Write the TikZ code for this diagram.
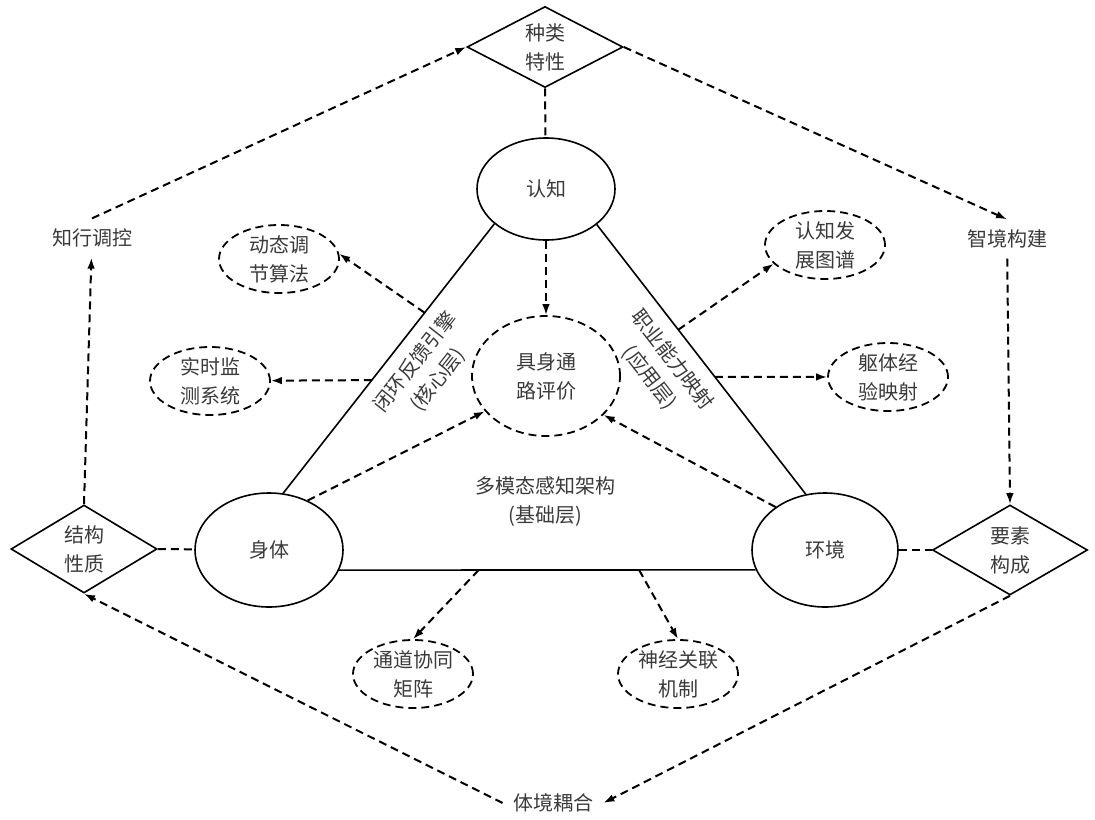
\documentclass[tikz,border=0pt]{standalone}
\usepackage{fontspec}
\usepackage{xcolor}
\usepackage{tikz}
\usetikzlibrary{arrows.meta,shapes.geometric}
\newfontfamily\cjk{Noto Sans CJK SC}
\definecolor{inkgray}{HTML}{3A3A3A}

\begin{document}
\begin{tikzpicture}[x=0.5pt,y=-0.5pt,
    every node/.style={font=\cjk\fontsize{10}{14.5}\selectfont,text=inkgray,align=center},
    hub/.style={ellipse,draw,line width=0.8pt,minimum width=74pt,minimum height=57pt},
    leaf/.style={ellipse,draw,line width=0.9pt,dash pattern=on 4pt off 2.5pt,inner sep=0pt,
                 minimum width=60pt,minimum height=34pt},
    facet/.style={diamond,draw,line width=0.8pt,aspect=2,inner sep=0pt,
                  minimum width=76pt,minimum height=44pt},
    tag/.style={inner sep=5pt},
    layer/.style={sloped,below,inner sep=6pt},
    link/.style={line width=1pt,dash pattern=on 4pt off 2.5pt},
    flow/.style={link,-{Latex[length=5.5pt,width=3.8pt]}}]
    \useasboundingbox (0,0) rectangle (1095,819);

    \node[hub,minimum width=69pt,minimum height=51pt] (cog) at (546,189) {认知};
    \node[hub] (body) at (269,550) {身体};
    \node[hub,minimum width=73pt] (env) at (825,550) {环境};
    \node[leaf,minimum width=74pt,minimum height=60pt] (eval) at (546,376) {具身通\\路评价};

    \node[facet,minimum width=78pt,minimum height=40.5pt] (kind) at (545,47) {种类\\特性};
    \node[facet,minimum width=73pt] (struct) at (84,549) {结构\\性质};
    \node[facet,minimum width=77.5pt,minimum height=45pt] (elem) at (1010,550) {要素\\构成};

    \node[tag] (zxtk) at (92,238) {知行调控};
    \node[tag] (zjgj) at (1007,239) {智境构建};
    \node[tag] (tjoh) at (553,803) {体境耦合};

    \node[leaf] (dyn) at (279,259) {动态调\\节算法};
    \node[leaf] (mon) at (210,381) {实时监\\测系统};
    \node[leaf] (graph) at (825,245) {认知发\\展图谱};
    \node[leaf] (bexp) at (888,377) {躯体经\\验映射};
    \node[leaf] (chan) at (413,674) {通道协同\\矩阵};
    \node[leaf] (neur) at (678,674) {神经关联\\机制};

    \node (base) at (545,502) {多模态感知架构\\(基础层)};

    \draw[line width=0.8pt] (body.76) -- node[pos=0.54,layer] {闭环反馈引擎\\(核心层)}
        coordinate[pos=0.42] (l2) coordinate[pos=0.67] (l1) (cog.214);
    \draw[line width=0.8pt] (cog.325) -- node[pos=0.45,layer] {职业能力映射\\(应用层)}
        coordinate[pos=0.39] (r1) coordinate[pos=0.565] (r2) (env.109);
    \draw[line width=0.8pt] (body.-16) -- coordinate[pos=0.335] (b1) coordinate[pos=0.72] (b2) (env.196);

    \draw[flow] (l1) -- (dyn.5);
    \draw[flow] (l2) -- (mon);
    \draw[flow] (r1) -- (graph.200);
    \draw[flow] (r2) -- (bexp);
    \draw[flow] (b1) -- (chan.north);
    \draw[flow] (b2) -- (neur.north);

    \draw[flow] (cog) -- (eval);
    \draw[flow] (body.52) -- (eval.210);
    \draw[flow] (env.139) -- (eval.326);

    \draw[link] (kind.south) -- (cog);
    \draw[link] (struct.east) -- (body);
    \draw[link] (env) -- (elem.west);

    \draw[flow] (struct.north) -- (zxtk);
    \draw[flow] (zxtk.north) -- (kind.west);
    \draw[flow] (kind.east) -- (zjgj.north);
    \draw[flow] (zjgj) -- (elem.north);
    \draw[flow] (elem.south) -- (tjoh.east);
    \draw[flow] (tjoh.west) -- (struct.south);
\end{tikzpicture}
\end{document}
